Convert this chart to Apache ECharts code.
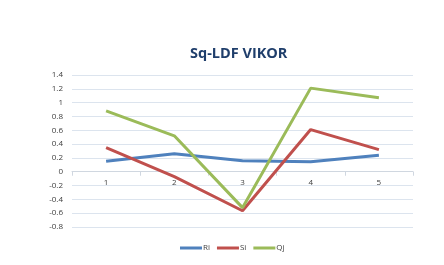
<!DOCTYPE html>
<html><head><meta charset="utf-8">
<script src="https://cdn.jsdelivr.net/npm/echarts@6/dist/echarts.min.js"></script>
<style>html,body{margin:0;padding:0;background:#fff}#c{width:444px;height:265px}</style>
</head><body><div id="c"></div>
<script>
const categories = ['1','2','3','4','5'];
const ri = [0.15, 0.26, 0.16, 0.145, 0.24];
const si = [0.35, -0.07, -0.565, 0.61, 0.32];
const qj = [0.88, 0.52, -0.52, 1.21, 1.07];
const seriesNames = ['Ri','Si','Qj'];
const colors = ['#4F81BD','#C0504D','#9BBB59'];
const chart = echarts.init(document.getElementById('c'));
const mk = (name, data, color) => ({
  name, type: 'line', data, symbol: 'none', smooth: false,
  lineStyle: {color, width: 3}, itemStyle: {color}
});
const gridTop = 75, gridBottom = 38, chartH = 265;
const yMin = -0.8, yMax = 1.4;
const plotH = chartH - gridTop - gridBottom;
const zeroOffset = -plotH * (0 - yMin) / (yMax - yMin);
chart.setOption({
  animation: false,
  title: {text: 'Sq-LDF VIKOR', left: 185, top: 41,
    textStyle: {fontFamily: 'Open Sans', fontWeight: 'bold', fontSize: 14.5, color: '#1F3E6B'}},
  grid: {left: 72, right: 31, top: gridTop, bottom: gridBottom},
  legend: {top: 239, left: 175, icon: 'rect', itemWidth: 22, itemHeight: 3, itemGap: 7,
    textStyle: {fontFamily: 'Open Sans', fontSize: 8, color: '#404040', padding: [0,0,0,-4]},
    data: seriesNames},
  xAxis: {type: 'category', data: categories, boundaryGap: true, offset: zeroOffset,
    axisLine: {onZero: false, lineStyle: {color: '#D0D7E0'}},
    axisTick: {show: true, length: 4, lineStyle: {color: '#D0D7E0'}},
    axisLabel: {fontFamily: 'Open Sans', fontSize: 8, color: '#404040', margin: 7}},
  yAxis: {type: 'value', min: yMin, max: yMax, interval: 0.2,
    axisLine: {show: false}, axisTick: {show: false},
    splitLine: {lineStyle: {color: '#DCE4EE'}},
    axisLabel: {fontFamily: 'Open Sans', fontSize: 8, color: '#404040', margin: 9,
      formatter: v => String(Math.round(v*10)/10)}},
  series: [mk('Ri', ri, colors[0]), mk('Si', si, colors[1]), mk('Qj', qj, colors[2])]
});
</script></body></html>
